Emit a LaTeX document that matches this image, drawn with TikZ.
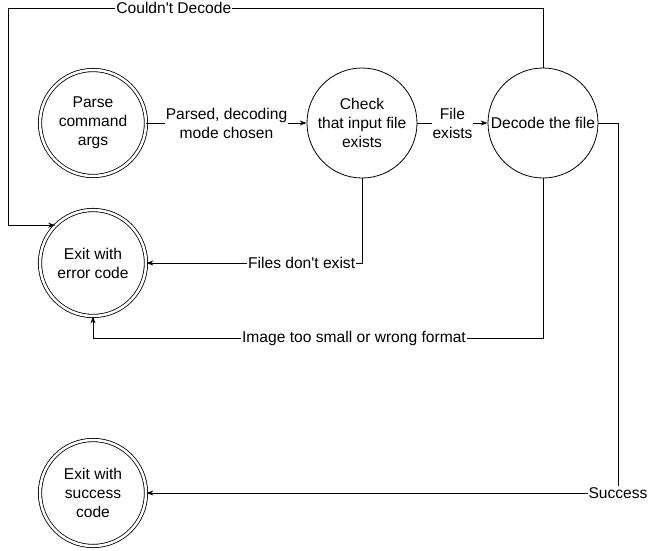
\documentclass[tikz,border=0pt]{standalone}
\usepackage{fontspec}
\setmainfont{Liberation Sans}
\usetikzlibrary{arrows.meta}
\begin{document}
\begin{tikzpicture}[x=1pt, y=-1pt, line width=0.8pt, >={Stealth[length=7pt,width=5pt]},
        state/.style={circle, draw, minimum size=110pt, inner sep=0pt, align=center, font=\fontsize{15.6}{19}\selectfont},
        final/.style={state, double, double distance=2.5pt, minimum size=106pt},
        lbl/.style={fill=white, inner sep=1pt, align=center, font=\fontsize{15.6}{19}\selectfont}]
        \useasboundingbox (0,0) rectangle (652,550);
        \node [final] (parse) at (93,123) {Parse\\command\\args};
        \node [state] (check) at (362,123) {Check\\that input file\\exists};
        \node [state] (decode) at (543,123) {Decode the file};
        \node [final] (error) at (93,263) {Exit with\\error code};
        \node [final] (success) at (93,493) {Exit with\\success\\code};
        \draw [->] (parse) -- node [lbl] {Parsed, decoding\\mode chosen} (check);
        \draw [->] (check) -- node [lbl] {File\\exists} (decode);
        \draw [->] (check.south) |- node [lbl, pos=0.64] {Files don\textquotesingle t exist} (error);
        \draw [->] (decode.north) |- node [lbl, pos=0.845] {Couldn\textquotesingle t Decode} (8,8) |- (error.north west);
        \draw [->] (decode.south) -- (543,338) -| node [lbl, pos=0.21] {Image too small or wrong format} (error.south);
        \draw [->] (decode.east) -| (618,493) node [lbl] {Success} -- (success);
      \end{tikzpicture}
\end{document}
